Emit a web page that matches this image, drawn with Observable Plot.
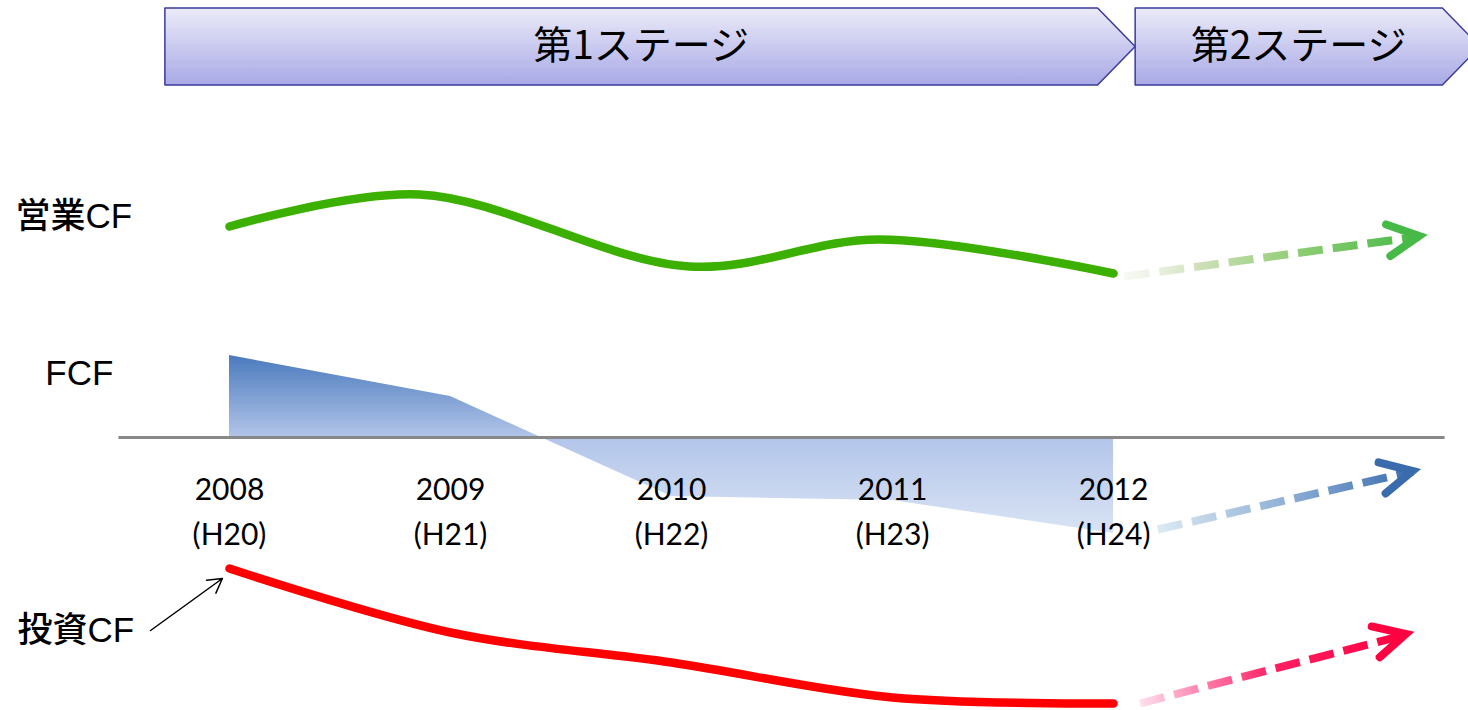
<!DOCTYPE html>
<html><head><meta charset="utf-8">
<script src="https://cdn.jsdelivr.net/npm/d3@7"></script>
<script src="https://cdn.jsdelivr.net/npm/@observablehq/plot@0.6"></script>
<style>body{margin:0;background:#fff;}</style>
</head><body><div id="chart"></div>
<script>
// ---- data ----
const years = [2008, 2009, 2010, 2011, 2012];
const heisei = ["H20", "H21", "H22", "H23", "H24"];
const fcf = [8.2, 4.1, -5.9, -6.3, -9.6];
const opX = [2008, 2008.86, 2010.08, 2010.94, 2012];
const opCF = [21.1, 24.3, 17.1, 19.8, 16.4];
const invCF = [-13.1, -19.5, -22.5, -26.0, -26.6];
const stageLabels = ["第1ステージ", "第2ステージ"];
const stageStart = [2007.71, 2012.1];
const stageEnd = [2012.1, 2013.66];
const outlookNames = ["営業CF", "FCF", "投資CF"];
const outlookX1 = [2012.05, 2012.2, 2012.12];
const outlookY1 = [16.1, -9.2, -26.6];
const outlookX2 = [2013.385, 2013.355, 2013.325];
const outlookY2 = [20.1, -3.4, -19.7];
const seriesLabels = ["営業CF", "FCF", "投資CF"];

// ---- tables built from the arrays ----
const fcfData = years.map((y, i) => ({year: y, v: fcf[i]}));
const opData = opX.map((x, i) => ({x, v: opCF[i]}));
const invData = years.map((y, i) => ({year: y, v: invCF[i]}));
const tip = 0.17, bTop = 42.9, bBot = 35.2, bMid = (bTop + bBot) / 2;
const stagePts = stageLabels.flatMap((s, i) => [
  {stage: s, x: stageStart[i], y1: bBot, y2: bTop},
  {stage: s, x: stageEnd[i] - tip, y1: bBot, y2: bTop},
  {stage: s, x: stageEnd[i], y1: bMid, y2: bMid}
]);
const stageText = stageLabels.map((s, i) => ({s, x: (stageStart[i] + stageEnd[i] - tip / 2) / 2}));
const outlook = outlookNames.map((n, i) => ({n, x1: outlookX1[i], y1: outlookY1[i], x2: outlookX2[i], y2: outlookY2[i]}));
const outColors = ["#46b946", "#3a6cad", "#ff0040"];
const outGrads = ["url(#gGreen)", "url(#gBlue)", "url(#gRed)"];

function defs() {
  const d = d3.create("svg:defs");
  const grad = (id, stops, vertical) => {
    const g = d.append("linearGradient").attr("id", id)
      .attr("x1", 0).attr("y1", 0).attr("x2", vertical ? 0 : 1).attr("y2", vertical ? 1 : 0);
    stops.forEach(([o, c, a]) => g.append("stop").attr("offset", o).attr("stop-color", c).attr("stop-opacity", a ?? 1));
  };
  grad("stageGrad", [[0, "#ebebf9"], [1, "#a9a9e6"]], true);
  grad("fcfGrad", [[0, "#4a7abd"], [0.46, "#b2c5e9"], [1, "#d9e3f4"]], true);
  grad("gGreen", [[0, "#f2f6ec", 0.6], [0.25, "#cfe0b8"], [0.6, "#8ccc72"], [1, "#46b946"]], false);
  grad("gBlue", [[0, "#dceaf2"], [0.5, "#8fb0d6"], [1, "#3a6cad"]], false);
  grad("gRed", [[0, "#ffe0ec"], [0.25, "#ff7aa8"], [0.5, "#ff1f63"], [1, "#ff0040"]], false);
  return d.node();
}

// chevron arrowheads at the end of each outlook line, positioned through Plot's scales
function heads(index, scales) {
  const g = d3.create("svg:g");
  outlook.forEach((d, i) => {
    const x1 = scales.x(d.x1), y1 = scales.y(d.y1), x2 = scales.x(d.x2), y2 = scales.y(d.y2);
    const a = Math.atan2(y2 - y1, x2 - x1), L = 35, w = 27 * Math.PI / 180;
    const p = d3.path();
    p.moveTo(x2 - L * Math.cos(a - w), y2 - L * Math.sin(a - w));
    p.lineTo(x2, y2);
    p.lineTo(x2 - L * Math.cos(a + w), y2 - L * Math.sin(a + w));
    g.append("path").attr("d", p.toString()).attr("fill", "none").attr("stroke", outColors[i])
      .attr("stroke-width", 8).attr("stroke-linecap", "round").attr("stroke-linejoin", "miter");
  });
  return g.node();
}

const jp = "'Noto Sans CJK JP', 'Noto Sans', sans-serif";
const lab = "'Liberation Sans', 'Noto Sans CJK JP', sans-serif";

const chart = Plot.plot({
  width: 1468, height: 710, margin: 0,
  x: {domain: [2006.964, 2013.606], axis: null},
  y: {domain: [-27.3, 43.7], axis: null},
  marks: [
    defs,
    // stage banners
    Plot.areaY(stagePts, {x: "x", y1: "y1", y2: "y2", z: "stage", curve: "linear",
      fill: "url(#stageGrad)", stroke: "#3a3a9c", strokeWidth: 1.5}),
    Plot.text(stageText, {x: "x", y: bMid, text: "s", fontSize: 39, fontFamily: jp, fill: "#000"}),
    // FCF area
    Plot.areaY(fcfData, {x: "year", y: "v", curve: "linear", fill: "url(#fcfGrad)"}),
    Plot.ruleY([0], {x1: 2007.5, x2: 2013.5, stroke: "#888888", strokeWidth: 3}),
    // year labels
    Plot.text(years, {x: d => d, y: -7.1, text: (d, i) => `${d}\n(${heisei[i]})`,
      lineHeight: 1.5, fontSize: 30, fontFamily: "Lato, 'Open Sans', sans-serif", fill: "#000"}),
    // operating CF
    Plot.line(opData, {x: "x", y: "v", curve: "catmull-rom", stroke: "#3cb000", strokeWidth: 8.5,
      strokeLinecap: "round"}),
    // investing CF
    Plot.line(invData, {x: "year", y: "v", curve: "catmull-rom", stroke: "#ff0000", strokeWidth: 8.5,
      strokeLinecap: "round"}),
    // outlook dashed lines
    ...outlook.map((d, i) => Plot.link([d], {x1: "x1", y1: "y1", x2: "x2", y2: "y2",
      stroke: outGrads[i], strokeWidth: 8, strokeDasharray: "25,10", strokeLinecap: "butt"})),
    heads,
    // series labels
    Plot.text([seriesLabels[0]], {x: 2007.032, y: 22.1, text: d => d, textAnchor: "start",
      fontSize: 35, fontFamily: lab, fontWeight: 500, fill: "#000"}),
    Plot.text([seriesLabels[1]], {x: 2007.167, y: 6.4, text: d => d, textAnchor: "start",
      fontSize: 35, fontFamily: lab, fontWeight: 500, fill: "#000"}),
    Plot.text([seriesLabels[2]], {x: 2007.041, y: -19.3, text: d => d, textAnchor: "start",
      fontSize: 35, fontFamily: lab, fontWeight: 500, fill: "#000"}),
    // annotation arrow
    Plot.arrow([{x1: 2007.643, y1: -19.3, x2: 2007.968, y2: -14.1}], {x1: "x1", y1: "y1", x2: "x2", y2: "y2",
      stroke: "#000", strokeWidth: 1.5, headLength: 16, headAngle: 60, bend: 0})
  ]
});
document.getElementById("chart").appendChild(chart);
</script>
</body></html>
